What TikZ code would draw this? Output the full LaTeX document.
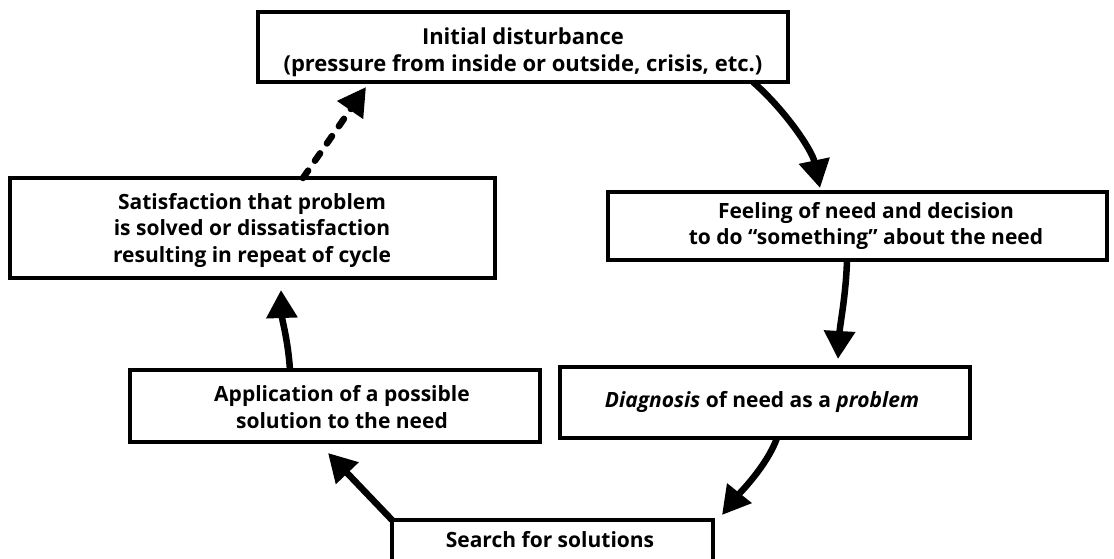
\documentclass[tikz,border=0pt]{standalone}
\usepackage{fontspec}
\setmainfont{Open Sans}
\usetikzlibrary{arrows.meta,calc}
\begin{document}
\begin{tikzpicture}[x=1pt,y=-1pt,
  box/.style={draw, line width=3.2pt, anchor=north west, inner sep=0pt, outer sep=0pt},
  lbl/.style={font=\fontsize{21}{26.5}\selectfont\bfseries, align=center, inner sep=0pt},
  flow/.style={line width=6.5pt, -{Triangle[length=28pt,width=30pt]}},
  dflow/.style={flow, line cap=round, dash pattern=on 9pt off 12pt},
]
\useasboundingbox (0,0) rectangle (1114,559);

% boxes
\node[box, minimum width=530pt, minimum height=70pt] (top) at (258,12) {};
\node[box, minimum width=499pt, minimum height=68pt] (feel) at (608,192) {};
\node[box, minimum width=410pt, minimum height=71pt] (diag) at (560,367) {};
\node[box, minimum width=321pt, minimum height=60pt] (search) at (392,520) {};
\node[box, minimum width=410pt, minimum height=72pt] (app) at (130,370) {};
\node[box, minimum width=485pt, minimum height=100pt] (sat) at (10,178) {};

% texts
\node[lbl, font=\fontsize{22}{27}\selectfont\bfseries] (toptxt) at (523,52) {Initial disturbance\\(pressure from inside or outside, crisis, etc.)};
\node[lbl] (feeltxt) at (866,226) {Feeling of need and decision\\to do “something” about the need};
\node[lbl] (diagtxt) at (762,402) {\itshape Diagnosis\upshape{} of need as a \itshape problem};
\node[lbl] (searchtxt) at (550,540) {Search for solutions};
\node[lbl] (apptxt) at (342,407) {Application of a possible\\solution to the need};
\node[lbl] (sattxt) at (252,230) {Satisfaction that problem\\is solved or dissatisfaction\\resulting in repeat of cycle};

% connectors
\coordinate (t1) at ($(feel.north west)+(212,-4)$);
\draw[flow] ($(top.south east)+(-35,0)$) .. controls +(32,28) and +(-8,-38) .. (t1);

\coordinate (t2) at ($(diag.north west)+(278,-8)$);
\draw[flow] ($(feel.south west)+(239,0)$) .. controls +(-1,35) and +(2,-35) .. (t2);

\coordinate (t3) at ($(search.north east)+(9,-5)$);
\draw[flow] ($(diag.south west)+(217,0)$) .. controls +(-10,28) and +(16,-20) .. (t3);

\coordinate (t4) at ($(app.south west)+(198,11)$);
\draw[flow] (search.north west) -- (t4);

\coordinate (t5) at ($(sat.south west)+(271,12)$);
\draw[flow] ($(app.north west)+(160,0)$) .. controls +(-2,-30) and +(1,30) .. (t5);

\coordinate (t6) at ($(top.south west)+(108,5)$);
\draw[dflow] ($(sat.north west)+(293,0)$) -- (t6);
\end{tikzpicture}
\end{document}
